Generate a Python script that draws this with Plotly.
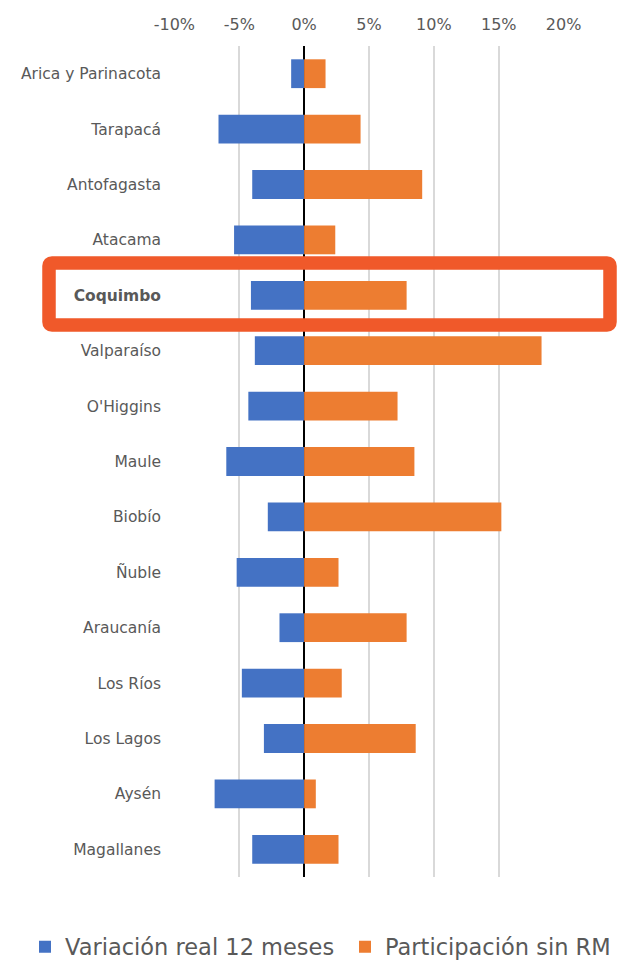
import plotly.graph_objects as go

regions = ["Arica y Parinacota", "Tarapacá", "Antofagasta", "Atacama", "Coquimbo",
           "Valparaíso", "O'Higgins", "Maule", "Biobío", "Ñuble", "Araucanía",
           "Los Ríos", "Los Lagos", "Aysén", "Magallanes"]
variacion = [-1.0, -6.6, -4.0, -5.4, -4.1, -3.8, -4.3, -6.0, -2.8, -5.2, -1.9, -4.8, -3.1, -6.9, -4.0]
participacion = [1.65, 4.35, 9.1, 2.4, 7.9, 18.3, 7.2, 8.5, 15.2, 2.65, 7.9, 2.9, 8.6, 0.9, 2.65]
x_ticks = [-10, -5, 0, 5, 10, 15, 20]
x_tick_labels = ["-10%", "-5%", "0%", "5%", "10%", "15%", "20%"]
highlight = "Coquimbo"

W, H = 619, 963
L, R, T, B = 174, 55, 46, 86
PW, PH = W - L - R, H - T - B

TXT = "#595959"
FONT = "DejaVu Sans"


def px(xp):
    return (xp - L) / PW


def py(yp):
    return (H - B - yp) / PH


fig = go.Figure()
fig.add_trace(go.Bar(y=regions, x=variacion, orientation="h", name="Variación real 12 meses",
                     marker=dict(color="#4472C4", line=dict(width=0)), legend="legend",
                     showlegend=True))
fig.add_trace(go.Bar(y=regions, x=participacion, orientation="h", name="Participación sin RM",
                     marker=dict(color="#ED7D31", line=dict(width=0)), legend="legend2",
                     showlegend=True))

ticktext = [f"<b>{r}</b>" if r == highlight else r for r in regions]

x0p, x1p, y0p, y1p, rr = 49, 610, 263, 325, 3
path = (f"M{px(x0p + rr)},{py(y0p)} L{px(x1p - rr)},{py(y0p)} Q{px(x1p)},{py(y0p)} {px(x1p)},{py(y0p + rr)} "
        f"L{px(x1p)},{py(y1p - rr)} Q{px(x1p)},{py(y1p)} {px(x1p - rr)},{py(y1p)} "
        f"L{px(x0p + rr)},{py(y1p)} Q{px(x0p)},{py(y1p)} {px(x0p)},{py(y1p - rr)} "
        f"L{px(x0p)},{py(y0p + rr)} Q{px(x0p)},{py(y0p)} {px(x0p + rr)},{py(y0p)} Z")

legend_common = dict(orientation="h", yanchor="middle", y=py(947),
                     font=dict(size=22.5, color=TXT, family=FONT), bgcolor="rgba(0,0,0,0)",
                     itemclick=False, borderwidth=0, visible=True)

fig.update_layout(
    width=W, height=H,
    showlegend=True,
    margin=dict(l=L, r=R, t=T, b=B, pad=0, autoexpand=False),
    paper_bgcolor="white", plot_bgcolor="white",
    barmode="relative", bargap=0.48,
    font=dict(family=FONT, color=TXT),
    xaxis=dict(side="top", range=[-10.03, 20.03], tickvals=x_ticks, ticktext=x_tick_labels,
               showgrid=True, gridcolor="#D9D9D9", gridwidth=1.5,
               zeroline=True, zerolinecolor="black", zerolinewidth=2,
               showline=False, ticks="", tickfont=dict(size=16, color=TXT),
               ticklabelstandoff=12, fixedrange=True),
    yaxis=dict(type="category", autorange="reversed", tickvals=regions, ticktext=ticktext,
               showgrid=False, zeroline=False, showline=False, ticks="",
               tickfont=dict(size=15.5, color=TXT), ticklabelstandoff=12, fixedrange=True),
    legend=dict(x=px(25), xanchor="left", **legend_common),
    legend2=dict(x=px(345), xanchor="left", **legend_common),
    shapes=[dict(type="path", xref="paper", yref="paper", path=path,
                 line=dict(color="#F0592A", width=13.5), fillcolor="rgba(0,0,0,0)", layer="above")],
)

fig.write_html("out.html", config={"displayModeBar": False},
               post_script="document.body.style.margin='0';document.body.style.overflow='hidden';")
